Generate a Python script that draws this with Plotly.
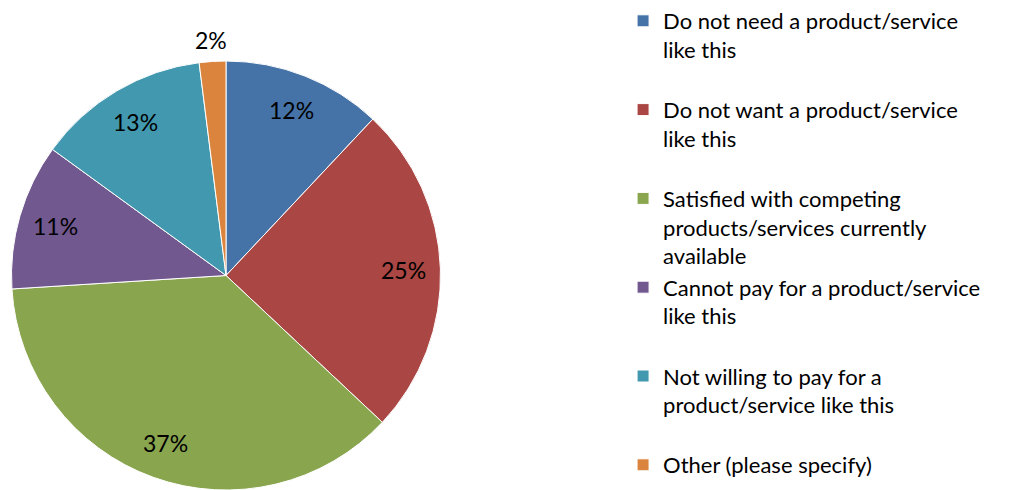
import math
import plotly.graph_objects as go

# Reasons for not purchasing, share of respondents (%)
reasons = [
    "Do not need a product/service<br>like this",
    "Do not want a product/service<br>like this",
    "Satisfied with competing<br>products/services currently<br>available",
    "Cannot pay for a product/service<br>like this",
    "Not willing to pay for a<br>product/service like this",
    "Other (please specify)",
]
shares = [12, 25, 37, 11, 13, 2]
colors = ["#4572A7", "#AA4643", "#89A54E", "#71588F", "#4198AF", "#DB843D"]

FONT = "Lato, 'Open Sans', sans-serif"
W, H = 1035, 490

# pie geometry in pixels (left, right, top, bottom of the pie's square domain)
PIE_L, PIE_R, PIE_T, PIE_B = 11, 441, 61, 490
cx = (PIE_L + PIE_R) / 2
cy = (PIE_T + PIE_B) / 2
radius = min(PIE_R - PIE_L, PIE_B - PIE_T) / 2

# pad each legend entry to three lines so entries sit on an even pitch
legend_names = []
for i, r in enumerate(reasons):
    n = r.count("<br>") + 1
    pad = 0 if i == len(reasons) - 1 else 3 - n
    legend_names.append(r + "<br>\u00a0" * pad)

fig = go.Figure(
    go.Pie(
        labels=legend_names,
        values=shares,
        sort=False,
        direction="clockwise",
        rotation=0,
        marker=dict(colors=colors, line=dict(color="white", width=1)),
        textinfo="none",
        domain=dict(x=[PIE_L / W, PIE_R / W], y=[1 - PIE_B / H, 1 - PIE_T / H]),
        hoverinfo="label+percent",
    )
)

# percentage labels on each slice's mid-angle; small slices sit outside
total = sum(shares)
cum = 0
for v in shares:
    mid = (cum + v / 2) / total * 2 * math.pi
    cum += v
    k = 0.83 if v / total >= 0.05 else 1.1
    px = cx + k * radius * math.sin(mid)
    py = cy - k * radius * math.cos(mid)
    fig.add_annotation(
        x=px / W, y=1 - py / H, xref="paper", yref="paper",
        xanchor="center", yanchor="middle",
        text=f"{v}%", showarrow=False,
        font=dict(family=FONT, size=23, color="black"),
    )

fig.update_layout(
    width=W,
    height=H,
    margin=dict(l=0, r=0, t=0, b=0),
    paper_bgcolor="white",
    plot_bgcolor="white",
    showlegend=True,
    legend=dict(
        x=0.602, y=1, xanchor="left", yanchor="top",
        valign="top",
        font=dict(family=FONT, size=22, color="black"),
        itemclick=False,
    ),
)

fig.write_html("out.html")
